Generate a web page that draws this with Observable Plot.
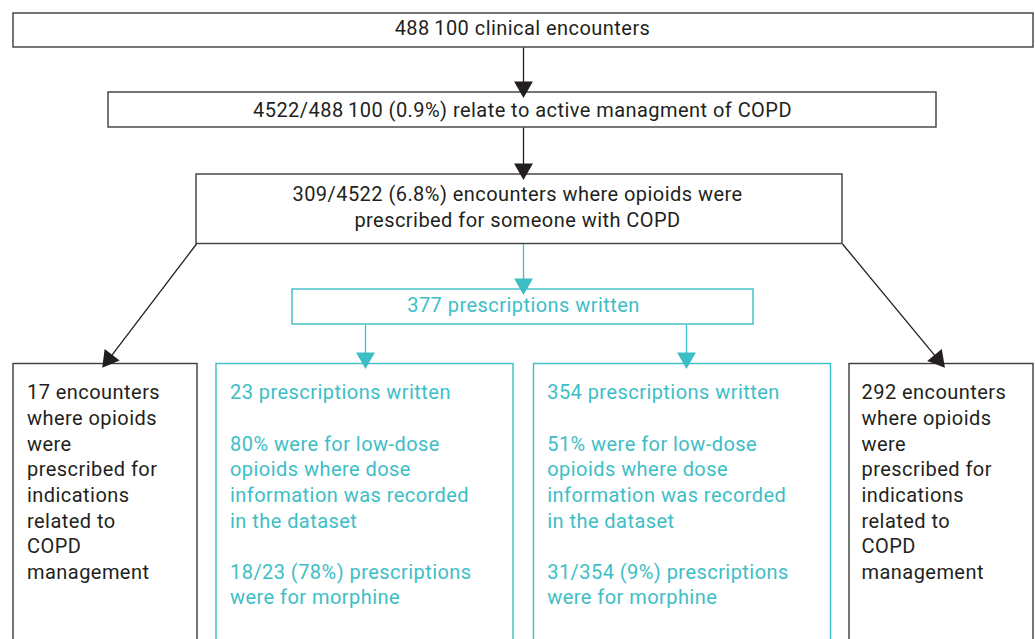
<!DOCTYPE html>
<html>
<head>
<meta charset="utf-8">
<script src="https://cdn.jsdelivr.net/npm/d3@7"></script>
<script src="https://cdn.jsdelivr.net/npm/@observablehq/plot@0.6"></script>
<style>
  html, body { margin: 0; padding: 0; background: #fff; }
  #chart svg { display: block; }
</style>
</head>
<body>
<div id="chart"></div>
<script>
// ---- Data (text content of the flowchart) ----
const nodeIds = ["total", "copd", "opioid", "scripts", "leftEnc", "leftScripts", "rightScripts", "rightEnc"];
const nodeTexts = [
  "488\u2009100 clinical encounters",
  "4522/488\u2009100 (0.9%) relate to active managment of COPD",
  "309/4522 (6.8%) encounters where opioids were\nprescribed for someone with COPD",
  "377 prescriptions written",
  "17 encounters\nwhere opioids\nwere\nprescribed for\nindications\nrelated to\nCOPD\nmanagement",
  "23 prescriptions written\n\n80% were for low-dose\nopioids where dose\ninformation was recorded\nin the dataset\n\n18/23 (78%) prescriptions\nwere for morphine",
  "354 prescriptions written\n\n51% were for low-dose\nopioids where dose\ninformation was recorded\nin the dataset\n\n31/354 (9%) prescriptions\nwere for morphine",
  "292 encounters\nwhere opioids\nwere\nprescribed for\nindications\nrelated to\nCOPD\nmanagement"
];
const nodeGroup = ["main", "main", "main", "prescription", "main", "prescription", "prescription", "main"];
const edgeFrom = ["total", "copd", "opioid", "opioid", "opioid", "scripts", "scripts"];
const edgeTo   = ["copd", "opioid", "leftEnc", "scripts", "rightEnc", "leftScripts", "rightScripts"];

// ---- Layout (pixel frame of the 1035x639 figure) ----
const layout = {
  total:        {x1: 13,  x2: 1033, y1: 13,  y2: 47,  tx: 522, ty: 26.6, level: "top"},
  copd:         {x1: 108, x2: 936,  y1: 92,  y2: 127, tx: 522, ty: 108,  level: "top"},
  opioid:       {x1: 196, x2: 842,  y1: 174, y2: 243.5, tx: 517, ty: 204.7, level: "top"},
  scripts:      {x1: 292, x2: 753,  y1: 289, y2: 324, tx: 523, ty: 303.6, level: "top"},
  leftEnc:      {x1: 13,  x2: 197,  y1: 363.5, y2: 660, tx: 26.5, ty: 380.5, level: "bottom"},
  leftScripts:  {x1: 216, x2: 513,  y1: 363.5, y2: 660, tx: 229.5, ty: 380.5, level: "bottom"},
  rightScripts: {x1: 533.5, x2: 830.5, y1: 363.5, y2: 660, tx: 546.7, ty: 380.5, level: "bottom"},
  rightEnc:     {x1: 849, x2: 1033, y1: 363.5, y2: 660, tx: 861, ty: 380.5, level: "bottom"}
};
const edgeLayout = [
  {x1: 523, y1: 47,    x2: 523, y2: 92},
  {x1: 523, y1: 127,   x2: 523, y2: 174},
  {x1: 196, y1: 243.5, x2: 105, y2: 363},
  {x1: 523, y1: 243.5, x2: 523, y2: 289},
  {x1: 842, y1: 243.5, x2: 941, y2: 363},
  {x1: 365, y1: 324,   x2: 365, y2: 363},
  {x1: 686, y1: 324,   x2: 686, y2: 363}
];

const textColors = {main: "#231f20", prescription: "#3dbec6"};
const boxStrokes = {main: "#3c3c3c", prescription: "#3dbec6"};
const edgeColors = {main: "#231f20", prescription: "#3dbec6"};

const nodes = nodeIds.map((id, i) => ({id, text: nodeTexts[i], group: nodeGroup[i], ...layout[id]}));
const edges = edgeFrom.map((f, i) => {
  const e = edgeLayout[i];
  const group = (f === "opioid" && edgeTo[i] === "scripts") || f === "scripts" ? "prescription" : "main";
  const angle = Math.atan2(e.y2 - e.y1, e.x2 - e.x1) * 180 / Math.PI; // screen angle
  return {from: f, to: edgeTo[i], group, ...e, angle};
});
const rad = a => a * Math.PI / 180;

const font = "Roboto, 'Noto Sans', sans-serif";

const chart = Plot.plot({
  width: 1035,
  height: 639,
  margin: 0,
  x: {domain: [0, 1035], range: [0, 1035], axis: null},
  y: {domain: [0, 639], range: [0, 639], axis: null},
  style: {fontFamily: font, background: "#fff", letterSpacing: "0.45px"},
  marks: [
    Plot.rect(nodes, {
      x1: "x1", x2: "x2", y1: "y1", y2: "y2",
      fill: "none",
      stroke: d => boxStrokes[d.group],
      strokeWidth: 1.4
    }),
    Plot.link(edges, {
      x1: "x1", y1: "y1",
      x2: d => d.x2 - 10 * Math.cos(rad(d.angle)),
      y2: d => d.y2 - 10 * Math.sin(rad(d.angle)),
      stroke: d => edgeColors[d.group],
      strokeWidth: 1.3
    }),
    Plot.dot(edges, {
      x: d => d.x2 - 5.5 * Math.cos(rad(d.angle)),
      y: d => d.y2 - 5.5 * Math.sin(rad(d.angle)),
      symbol: "triangle",
      r: 7,
      rotate: d => d.angle + 90,
      fill: d => edgeColors[d.group],
      stroke: "none"
    }),
    Plot.text(nodes, {
      filter: d => d.level === "top",
      x: "tx", y: "ty",
      text: "text",
      textAnchor: "middle",
      lineAnchor: "middle",
      fill: d => textColors[d.group],
      fontSize: 20,
      lineHeight: 1.3
    }),
    Plot.text(nodes, {
      filter: d => d.level === "bottom",
      x: "tx", y: "ty",
      text: "text",
      textAnchor: "start",
      lineAnchor: "top",
      fill: d => textColors[d.group],
      fontSize: 20,
      lineHeight: 1.283
    })
  ]
});
document.getElementById("chart").appendChild(chart);
</script>
</body>
</html>
